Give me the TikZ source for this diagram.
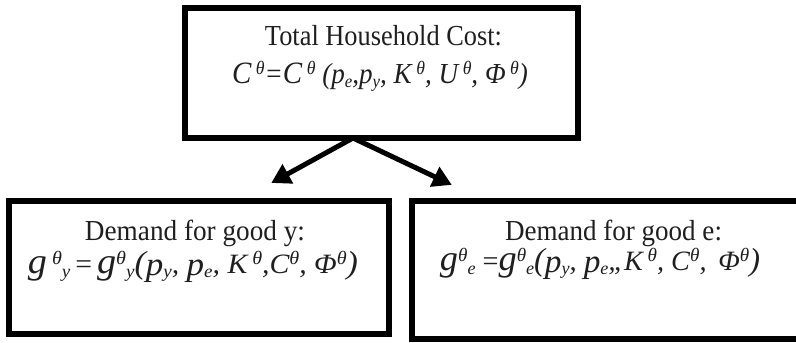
\documentclass[tikz,border=0pt]{standalone}
\usepackage{fontspec}
\usepackage{graphicx}
\setmainfont{Liberation Serif}
\usetikzlibrary{arrows.meta}
\newcommand\fs[2]{{\fontsize{#1}{#1}\selectfont #2}}
\newcommand\mysup[1]{\raisebox{8.5pt}{\fontsize{19}{19}\selectfont #1}}
\newcommand\mysub[1]{\raisebox{-4pt}{\fontsize{18}{18}\selectfont #1}}
\newcommand\fitw[2]{\resizebox{#1}{\height}{#2}}
\begin{document}
\begin{tikzpicture}[x=1pt,y=-1pt,
  box/.style={draw=black,line width=6pt,rectangle,inner sep=0pt},
  txt/.style={anchor=base,inner sep=0pt,font=\fontsize{29}{34}\selectfont,text=black!88},
  arr/.style={line width=5pt,-{Triangle[length=19pt,width=21pt]},shorten >=-2pt}]
\useasboundingbox (0,0) rectangle (796,343);
\node[box,minimum width=393pt,minimum height=130pt] (top) at (381.5,73) {};
\node[box,minimum width=380.5pt,minimum height=133pt] (left) at (198.75,267.5) {};
\node[box,minimum width=398.5pt,minimum height=138pt] (right) at (610.75,270) {};
\node[txt] (t1) at (383.5,45) {\fitw{237pt}{Total Household Cost:}};
\node[txt] (t2) at (380,83) {\fitw{296pt}{\itshape\fs{31}{C}\,\mysup{θ}=\fs{31}{C}\,\mysup{θ} (p\mysub{e},p\mysub{y}, K\,\mysup{θ}, U\,\mysup{θ}, Φ\,\mysup{θ})}};
\node[txt] (l1) at (195,240) {\fitw{220pt}{Demand for good y:}};
\node[txt] (l2) at (193,273) {\fitw{330pt}{\itshape\fs{28}{\fs{36}{g}\,\mysup{θ}\mysub{y}\,\upshape=\itshape\,\fs{36}{g}\mysup{θ}\mysub{y}\fs{32}{(}\raisebox{-2pt}{\fs{33}{p}}\mysub{y}, \raisebox{-2pt}{\fs{33}{p}}\mysub{e}, K\,\mysup{θ},C\mysup{θ}, Φ\mysup{θ}\fs{32}{)}}}};
\node[txt] (r1) at (613.5,240) {\fitw{217pt}{Demand for good e:}};
\node[txt] (r2) at (600,270) {\fitw{320pt}{\itshape\fs{28}{\fs{36}{g}\mysup{θ}\mysub{e} \upshape=\itshape\fs{36}{g}\mysup{θ}\mysub{e}\fs{32}{(}\raisebox{-2pt}{\fs{33}{p}}\mysub{y}, \raisebox{-2pt}{\fs{33}{p}}\mysub{e},,K\,\mysup{θ}, C\mysup{θ}, \,Φ\mysup{θ}\fs{32}{)}}}};
\coordinate (fork) at (353,138);
\coordinate (ltip) at (273,182);
\coordinate (rtip) at (450,184);
\draw[arr] (fork) -- (ltip);
\draw[arr] (fork) -- (rtip);
\end{tikzpicture}
\end{document}
